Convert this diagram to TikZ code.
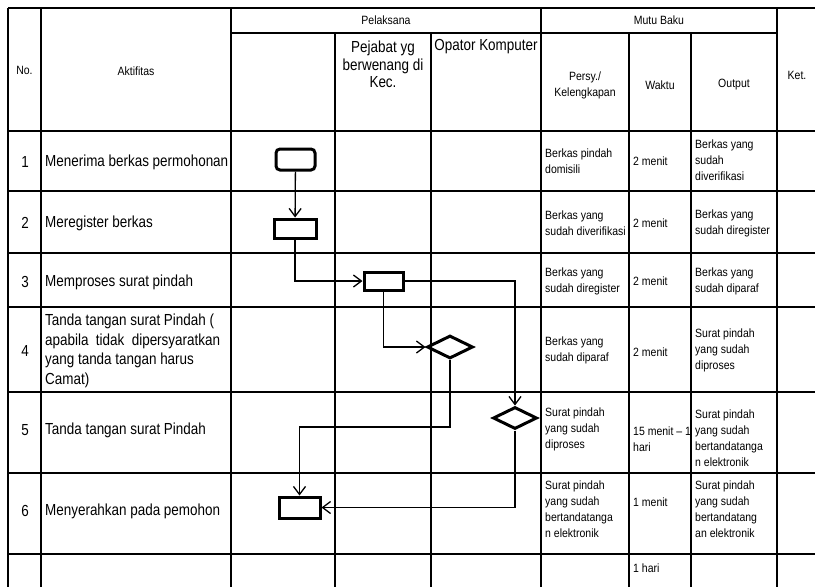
\documentclass[tikz,border=0pt]{standalone}
\usepackage{fontspec}
\setmainfont{Liberation Sans}
\newfontfamily\rowfont{Liberation Sans}[FakeStretch=0.84]
\newfontfamily\cellfont{Liberation Sans}[FakeStretch=0.875]
\usetikzlibrary{arrows.meta, shapes.geometric}

\begin{document}
\begin{tikzpicture}[x=1pt, y=-1pt,
    grid/.style={line width=1.6pt},
    gridthick/.style={line width=2.6pt},
    act/.style={draw, line width=3pt, minimum width=39pt, minimum height=19pt, inner sep=0pt},
    dec/.style={draw, diamond, line width=3pt, minimum width=46pt, minimum height=23pt, inner sep=0pt},
    flow/.style={line width=1.3pt, -{Straight Barb[length=8pt, width=12pt]}},
    big/.style={font=\rowfont\fontsize{16}{19.5}\selectfont, inner sep=0pt},
    small/.style={font=\cellfont\fontsize{12}{16}\selectfont, inner sep=0pt},
    cell/.style={small, anchor=west, align=left},
    row/.style={big, anchor=west, align=left},
  ]
  \useasboundingbox (0,0) rectangle (815,587);
  \clip (0,0) rectangle (815,587);

  % table lines
  \draw[grid] (8,8) -- (815,8);
  \draw[grid] (231,33) -- (777,33);
  \foreach \y in {131,307,392,473,554}
    \draw[grid] (8,\y) -- (815,\y);
  \foreach \y in {191,253}
    \draw[gridthick] (8,\y) -- (815,\y);
  \foreach \x in {8,41,231,541,777}
    \draw[grid] (\x,8) -- (\x,590);
  \foreach \x in {335,431,629,691}
    \draw[grid] (\x,33) -- (\x,590);

  % header
  \node[small] (no) at (24.5,70) {No.};
  \node[small] (aktifitas) at (136,71) {Aktifitas};
  \node[small] (pelaksana) at (386,20) {Pelaksana};
  \node[small] (mutubaku) at (659,20) {Mutu Baku};
  \node[big, align=center, font=\rowfont\fontsize{16}{17.5}\selectfont] (pejabat) at (383,64.5) {Pejabat yg\\berwenang di\\Kec.};
  \node[big] (opator) at (486,47) {Opator Komputer};
  \node[small, align=center] (persy) at (585,85) {Persy./\\Kelengkapan};
  \node[small] (waktu) at (660,85) {Waktu};
  \node[small] (output) at (734,85) {Output};
  \node[small] (ket) at (797,75) {Ket.};

  % numbers and activities
  \foreach \n/\y in {1/162,2/223,3/282,4/351,5/430,6/511}
    \node[big] (no\n) at (25,\y) {\n};
  \node[row] (akt1) at (45,162) {Menerima berkas permohonan};
  \node[row] (akt2) at (45,223) {Meregister berkas};
  \node[row] (akt3) at (45,282) {Memproses surat pindah};
  \node[row] (akt4) at (45,351) {Tanda tangan surat Pindah (\\apabila\ \ tidak\ \ dipersyaratkan\\yang tanda tangan harus\\Camat)};
  \node[row] (akt5) at (45,430) {Tanda tangan surat Pindah};
  \node[row] (akt6) at (45,511) {Menyerahkan pada pemohon};

  % mutu baku
  \node[cell] (persy1) at (545,161) {Berkas pindah\\domisili};
  \node[cell] (waktu1) at (633,161) {2 menit};
  \node[cell] (output1) at (695,160) {Berkas yang\\sudah\\diverifikasi};
  \node[cell] (persy2) at (545,223) {Berkas yang\\sudah diverifikasi};
  \node[cell] (waktu2) at (633,223) {2 menit};
  \node[cell] (output2) at (695,223) {Berkas yang\\sudah diregister};
  \node[cell] (persy3) at (545,281) {Berkas yang\\sudah diregister};
  \node[cell] (waktu3) at (633,281) {2 menit};
  \node[cell] (output3) at (695,281) {Berkas yang\\sudah diparaf};
  \node[cell] (persy4) at (545,350) {Berkas yang\\sudah diparaf};
  \node[cell] (waktu4) at (633,352) {2 menit};
  \node[cell] (output4) at (695,350) {Surat pindah\\yang sudah\\diproses};
  \node[cell] (persy5) at (545,429) {Surat pindah\\yang sudah\\diproses};
  \node[cell] (waktu5) at (633,439) {15 menit – 1\\hari};
  \node[cell] (output5) at (695,438) {Surat pindah\\yang sudah\\bertandatanga\\n elektronik};
  \node[cell] (persy6) at (545,509) {Surat pindah\\yang sudah\\bertandatanga\\n elektronik};
  \node[cell] (waktu6) at (633,502) {1 menit};
  \node[cell] (output6) at (695,509) {Surat pindah\\yang sudah\\bertandatang\\an elektronik};
  \node[cell] (waktu7) at (633,568) {1 hari};

  % flow
  \node[act, rounded corners=4pt, minimum height=21pt] (terima) at (295.5,159.5) {};
  \node[act, minimum width=42pt] (register) at (295,228.5) {};
  \node[act, minimum height=18pt] (proses) at (383.5,281) {};
  \node[dec] (ttdkec) at (450,347) {};
  \node[dec, minimum width=44pt, minimum height=22pt] (ttdpindah) at (515,418) {};
  \node[act, minimum width=41pt, minimum height=21pt] (serah) at (299.5,507.5) {};
  \coordinate (belok) at (450,427);

  \draw[flow] (terima) -- (register);
  \draw[flow] (register) |- (proses);
  \draw[flow] (proses) -| (ttdpindah);
  \draw[flow] (proses) |- (ttdkec);
  \draw[flow] (ttdkec) -- (belok) -| (serah);
  \draw[flow] (ttdpindah) |- (serah);
\end{tikzpicture}
\end{document}
